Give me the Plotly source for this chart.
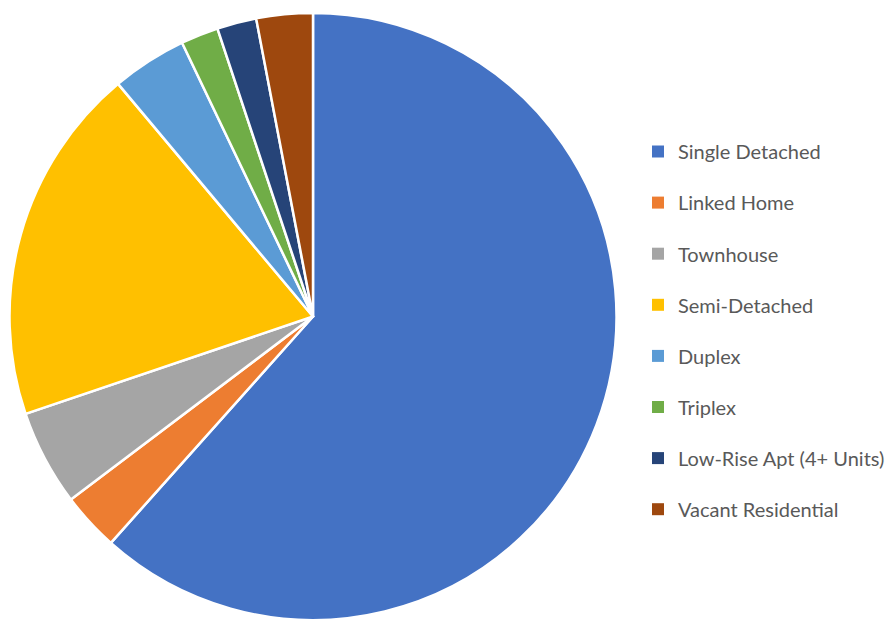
import plotly.graph_objects as go

labels = ["Single Detached", "Linked Home", "Townhouse", "Semi-Detached",
          "Duplex", "Triplex", "Low-Rise Apt (4+ Units)", "Vacant Residential"]
values = [61.6, 3.1, 5.1, 19.1, 4.0, 2.0, 2.1, 3.0]
colors = ["#4472C4", "#ED7D31", "#A5A5A5", "#FFC000",
          "#5B9BD5", "#70AD47", "#264478", "#9E480E"]

fig = go.Figure()
fig.add_trace(go.Pie(
    labels=labels, values=values, sort=False, direction="clockwise",
    rotation=0, textinfo="none", hoverinfo="label+percent",
    marker=dict(colors=colors, line=dict(color="white", width=2.5)),
    showlegend=False,
    domain=dict(x=[8/890, 618/890], y=[0, 607/620]),
))
for lab, col in zip(labels, colors):
    fig.add_trace(go.Scatter(
        x=[None], y=[None], mode="markers", name=lab, legendgroup=lab,
        marker=dict(symbol="square", size=9, color=col),
        hoverinfo="skip",
    ))

fig.update_layout(
    width=890, height=620,
    margin=dict(l=0, r=0, t=0, b=0),
    paper_bgcolor="white", plot_bgcolor="white",
    xaxis=dict(visible=False), yaxis=dict(visible=False),
    font=dict(family="Lato, Carlito, Calibri, sans-serif", color="#595959", size=20),
    legend=dict(x=638/890, y=1-132/620, xanchor="left", yanchor="top",
                tracegroupgap=22.1, itemsizing="constant",
                font=dict(size=20, color="#595959"),
                bgcolor="rgba(0,0,0,0)"),
)
fig.write_html("out.html")
